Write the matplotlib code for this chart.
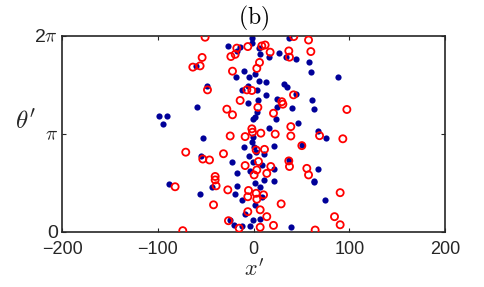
import matplotlib
matplotlib.use("Agg")
import matplotlib.pyplot as plt
import numpy as np

plt.rcParams["mathtext.fontset"] = "cm"
plt.rcParams["font.family"] = ["Liberation Sans", "DejaVu Sans"]

# filled blue points (x', theta')
blue_x = [-98.7, -90.7, -94.9, -1.9, -1.9, -26.3, -14.1, -17.6, 5.7, 6.8, 15.5, 26.6, 37.4, 44.4,
          33.9, 57.9, 59.7, -60.1, -10.6, -18.6, -4.4, 1.6, 5.7, 12.7, 32.2, 34.6, 43.7, 87.6,
          -48.9, -6.1, -12.4, 3.3, 12.7, -5.4, 5.0, 24.2, 24.2, 39.9, 61.4, 62.5, -58.7, 4.0,
          0.9, -0.2, 23.2, 16.5, 46.8, 66.7, 75.4, -53.1, -1.2, -1.9, -10.6, 0.5, 21.4, 50.3,
          2.6, -4.4, 10.3, -54.8, -1.2, -23.1, 8.5, 21.4, 36.4, 67.0, -16.9, -3.7, 10.3, 1.6,
          6.8, 21.4, 62.5, 63.5, -88.6, -43.7, -16.9, -55.9, -19.3, 9.2, -11.7, 1.6, 74.7,
          -8.9, -0.2, 6.8, -25.2, -20.0, -12.0, -3.7, 38.8]
blue_y = [3.71, 3.72, 3.47, 6.20, 6.05, 5.96, 5.94, 5.81, 5.89, 5.70, 5.60, 5.73, 6.22, 5.55,
          5.60, 5.45, 5.11, 5.33, 5.14, 4.97, 4.96, 5.06, 4.84, 4.80, 4.74, 4.63, 4.41, 4.96,
          4.66, 4.68, 4.53, 4.53, 4.37, 4.12, 4.23, 4.25, 4.01, 3.97, 4.21, 3.95, 3.99, 3.83,
          3.69, 3.63, 3.61, 3.32, 3.48, 3.23, 3.02, 3.02, 3.03, 2.89, 2.73, 2.73, 2.76, 2.78,
          2.57, 2.44, 2.49, 2.42, 2.23, 2.23, 2.13, 2.01, 2.30, 2.00, 1.87, 1.93, 1.66, 1.57,
          1.42, 1.61, 1.64, 1.58, 1.54, 1.44, 1.48, 1.20, 1.21, 1.12, 1.00, 0.85, 1.00,
          0.57, 0.37, 0.41, 0.37, 0.22, 0.17, 0.17, 0.14]

# open red circles
red_x = [-50.7, 41.9, 57.3, -6.1, -17.6, 8.5, 12.0, 17.2, 36.7, 59.7, -19.3, -23.8, 37.4,
         -53.8, -63.5, -55.9, 6.1, 3.3, -22.1, -7.1, -1.9, -48.2, 41.6, -14.1, 29.4, 30.5,
         4.4, -28.0, -22.1, 20.7, 97.3, -1.9, -1.2, 7.5, 38.8, 22.5, -24.5, -8.9, 38.8, 68.8,
         93.1, 11.3, 2.6, 50.3, -70.9, -31.5, -53.1, -46.1, 5.0, 36.7, 37.4, 55.5, -8.9, 3.3,
         17.9, 13.7, 0.5, 57.3, -40.2, -40.2, -39.2, -82.0, -27.0, -5.4, 2.6, 10.3, -6.1, 3.3,
         90.3, -41.9, 28.7, 6.8, -6.1, 13.7, -26.3, 84.4, 20.7, 90.3, -74.0, -15.1, 6.8, 64.2]
red_y = [6.24, 6.26, 6.15, 5.94, 5.89, 5.96, 5.99, 5.76, 5.80, 5.78, 5.69, 5.62, 5.60,
         5.59, 5.28, 5.32, 5.43, 5.24, 5.15, 4.55, 4.53, 4.55, 4.39, 4.21, 4.17, 4.09,
         3.99, 3.93, 3.75, 3.80, 3.92, 3.30, 3.19, 3.16, 3.37, 3.13, 3.07, 3.05, 3.07, 3.08,
         2.98, 2.64, 2.62, 2.76, 2.55, 2.50, 2.33, 2.30, 2.25, 2.27, 2.09, 2.03, 2.12, 1.98,
         2.09, 1.87, 1.82, 1.82, 1.77, 1.66, 1.47, 1.44, 1.34, 1.32, 1.23, 1.18, 1.12, 1.04,
         1.25, 0.86, 0.89, 0.70, 0.64, 0.48, 0.35, 0.48, 0.20, 0.22, 0.03, 0.11, 0.14, 0.05]

x_ticks = [-200, -100, 0, 100, 200]
y_ticks = [0, np.pi, 2 * np.pi]
y_ticklabels = ["0", r"$\pi$", r"2$\pi$"]

fig = plt.figure(figsize=(4.85, 2.87), dpi=100)
ax = fig.add_axes([0.128, 0.193, 0.79, 0.682])

ax.scatter(blue_x, blue_y, s=20, color="#000099", linewidths=0, zorder=2)
ax.scatter(red_x, red_y, s=26, facecolors="none", edgecolors="#ff0000", linewidths=1.3, zorder=3)

ax.set_xlim(-200, 200)
ax.set_ylim(0, 2 * np.pi)
ax.set_xticks(x_ticks)
ax.set_yticks(y_ticks)
ax.set_yticklabels(y_ticklabels)
ax.tick_params(direction="in", top=True, right=True, length=3, width=0.8,
               labelsize=13, color="#262626", labelcolor="#262626")
ax.tick_params(axis="x", pad=7)
ax.tick_params(axis="y", pad=3)
for t in ax.get_yticklabels():
    t.set_fontsize(14)
for s in ax.spines.values():
    s.set_color("#262626")
    s.set_linewidth(1.2)

ax.set_xlabel(r"$x'$", fontsize=16, color="#262626", labelpad=1)
ax.set_ylabel(r"$\theta'$", fontsize=18, color="#262626", rotation=0)
ax.yaxis.set_label_coords(-0.095, 0.5)
ax.set_title(r"$\mathrm{(b)}$", fontsize=17, pad=8)

plt.savefig("out.png", dpi=100)
